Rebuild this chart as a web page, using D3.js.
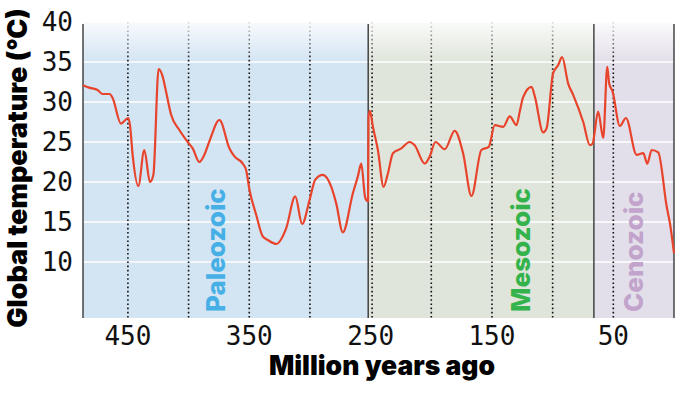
<!DOCTYPE html>
<html>
<head>
<meta charset="utf-8">
<style>
    body { margin: 0; background: #fff; }
    svg { display: block; }
    .tick-label { font-family: 'DejaVu Sans Mono', monospace; font-size: 26px; fill: #111; }
    .title { font-family: Inter, Lato, 'Liberation Sans', sans-serif; font-weight: 900; fill: #000; }
    .era { font-family: Inter, Lato, 'Liberation Sans', sans-serif; font-weight: 800; font-size: 26px; }
</style>
</head>
<body>
<svg width="680" height="393"></svg>

<script src="https://d3js.org/d3.v7.min.js"></script>
<script>
    // million years ago -> global temperature (deg C)
    let ages = [487, 482, 475, 471, 465, 462.6, 455.7, 449.7, 448.3, 446.1, 441.4, 436.5, 431.8, 429, 424.7, 421.4, 419.1,
        414.4, 407.6, 400.7, 396.6, 391.1, 387, 382.8, 374.6, 366.3, 362.2, 355.4, 352.6, 349.8, 344.3, 338.9, 334.7,
        327.8, 319.6, 312.1, 306.4, 300.3, 295.6, 289.4, 282.4, 278.3, 272.9, 264.6, 260.5, 257.7, 254.4, 252.1, 251.7,
        250.6, 248.1, 244, 239.3, 235.7, 231.6, 224.7, 217.8, 213.7, 205.4, 201.3, 196.6, 188.9, 180.7, 173.8, 166.9,
        158.7, 152.6, 147.7, 140.8, 135.3, 129.8, 127.1, 124.3, 117.4, 114.7, 107.8, 105, 99.6, 95.5, 92.2, 87.2, 83.1,
        74.8, 69.3, 67.1, 62.5, 58.3, 55, 53.4, 50.6, 44.6, 39.6, 30.8, 25.3, 22, 18.4, 13, 6, 3.3, 0]
    let temps = [32.1, 31.8, 31.5, 31.0, 31.0, 30.5, 27.3, 28.0, 27.1, 23.4, 19.5, 24.0, 20.0, 20.9, 34.1, 33.2, 31.7,
        28.4, 26.5, 25.0, 24.2, 22.5, 23.4, 25.1, 27.75, 24.2, 23.2, 22.3, 21.5, 19.0, 15.9, 13.2, 12.75,
        12.25, 14.2, 18.2, 14.75, 17.75, 20.3, 20.9, 19.4, 17.3, 13.7, 18.6, 20.7, 22.3, 18.0, 17.6, 28.2,
        28.9, 26.9, 24.0, 19.4, 21.1, 23.6, 24.2, 25.0, 24.6, 22.3, 23.2, 25.0, 24.1, 26.4, 23.6, 18.25,
        24.0, 24.4, 27.1, 26.9, 28.2, 27.1, 28.8, 30.6, 31.9, 30.7, 26.2, 26.7, 33.6, 34.6, 35.6, 32.3, 30.9,
        27.5, 24.6, 24.8, 28.8, 25.5, 34.4, 32.3, 31.3, 27.0, 28.0, 23.4, 23.6, 22.3, 24.0, 23.7, 16.9, 14.8, 11.1]

    let eraNames = ["Paleozoic", "Mesozoic", "Cenozoic"]
    let eraStart = [487, 252, 66]
    let eraEnd = [252, 66, 0]
    let eraFill = ["#d3e4f3", "#dfe5db", "#e3dfea"]
    let eraText = ["#46b0e6", "#34b34c", "#c2a3cb"]

    let dottedAges = [450, 400, 350, 300, 250, 200, 150, 100, 50]
    let xLabels = [450, 350, 250, 150, 50]
    let yTicks = [10, 15, 20, 25, 30, 35, 40]

    let margin = {left: 83, right: 6, top: 22, bottom: 75}
    let width = 680
    let height = 393

    let svg = d3.select("svg")

    let x = d3.scaleLinear()
        .domain([487, 0])
        .range([margin.left, width - margin.right])

    let y = d3.scaleLinear()
        .domain([3, 40])
        .range([height - margin.bottom, margin.top])

    // era backgrounds
    svg.selectAll(".era-bg")
        .data(eraNames)
        .join("rect")
        .attr("x", (d, i) => x(eraStart[i]))
        .attr("width", (d, i) => x(eraEnd[i]) - x(eraStart[i]))
        .attr("y", y(40))
        .attr("height", y(3) - y(40))
        .style("fill", (d, i) => eraFill[i])

    // white grid lines
    svg.selectAll(".grid")
        .data(yTicks)
        .join("line")
        .attr("x1", x(487))
        .attr("x2", x(0))
        .attr("y1", d => y(d))
        .attr("y2", d => y(d))
        .style("stroke", "#fff")
        .style("stroke-width", 1.5)

    // dotted age lines
    svg.selectAll(".dots")
        .data(dottedAges)
        .join("line")
        .attr("x1", d => x(d) + (d == 250 ? 1.5 : 0))
        .attr("x2", d => x(d) + (d == 250 ? 1.5 : 0))
        .attr("y1", y(40))
        .attr("y2", y(3))
        .style("stroke", "#111")
        .style("stroke-width", 1.6)
        .style("stroke-dasharray", "1.6 2.6")

    // era labels
    svg.selectAll(".era")
        .data(eraNames)
        .join("text")
        .attr("class", "era")
        .attr("transform", (d, i) => {
            let cx = [225, 530, 643][i]
            return "translate(" + cx + "," + (y(3) - 6) + ") rotate(-90)"
        })
        .style("fill", (d, i) => eraText[i])
        .text(d => d)

    // fade at top
    let defs = svg.append("defs")
    let grad = defs.append("linearGradient")
        .attr("id", "fade")
        .attr("x1", 0).attr("x2", 0).attr("y1", 0).attr("y2", 1)
    grad.append("stop").attr("offset", "0%").attr("stop-color", "#fff").attr("stop-opacity", 1)
    grad.append("stop").attr("offset", "35%").attr("stop-color", "#fff").attr("stop-opacity", 0.85)
    grad.append("stop").attr("offset", "100%").attr("stop-color", "#fff").attr("stop-opacity", 0)

    svg.append("rect")
        .attr("x", x(487) - 1)
        .attr("width", x(0) - x(487) + 2)
        .attr("y", 0)
        .attr("height", 62)
        .style("fill", "url(#fade)")

    // solid era boundaries + frame sides
    svg.selectAll(".bound")
        .data([487, 252, 66, 0])
        .join("line")
        .attr("x1", d => x(d))
        .attr("x2", d => x(d))
        .attr("y1", y(40) + 2)
        .attr("y2", y(3))
        .style("stroke", "#2a2a2a")
        .style("stroke-width", 1.3)

    // temperature line
    let line = d3.line()
        .x((d, i) => x(ages[i]))
        .y((d, i) => y(temps[i]))
        .curve(d3.curveMonotoneX)

    svg.append("path")
        .datum(temps)
        .attr("d", line)
        .style("fill", "none")
        .style("stroke", "#e8432b")
        .style("stroke-width", 2.2)
        .style("stroke-linejoin", "round")

    // y tick labels
    svg.selectAll(".ylab")
        .data(yTicks)
        .join("text")
        .attr("class", "tick-label")
        .attr("x", 73)
        .attr("y", d => y(d) + 9)
        .attr("text-anchor", "end")
        .text(d => d)

    // x tick labels
    svg.selectAll(".xlab")
        .data(xLabels)
        .join("text")
        .attr("class", "tick-label")
        .attr("x", d => x(d))
        .attr("y", 345)
        .attr("text-anchor", "middle")
        .text(d => d)

    // axis titles
    svg.append("text")
        .attr("class", "title")
        .attr("x", 382)
        .attr("y", 375)
        .attr("text-anchor", "middle")
        .style("font-size", "26.5px")
        .text("Million years ago")

    svg.append("text")
        .attr("class", "title")
        .attr("transform", "translate(27,168) rotate(-90)")
        .attr("text-anchor", "middle")
        .style("font-size", "27px")
        .text("Global temperature (°C)")
</script>
</body>
</html>
